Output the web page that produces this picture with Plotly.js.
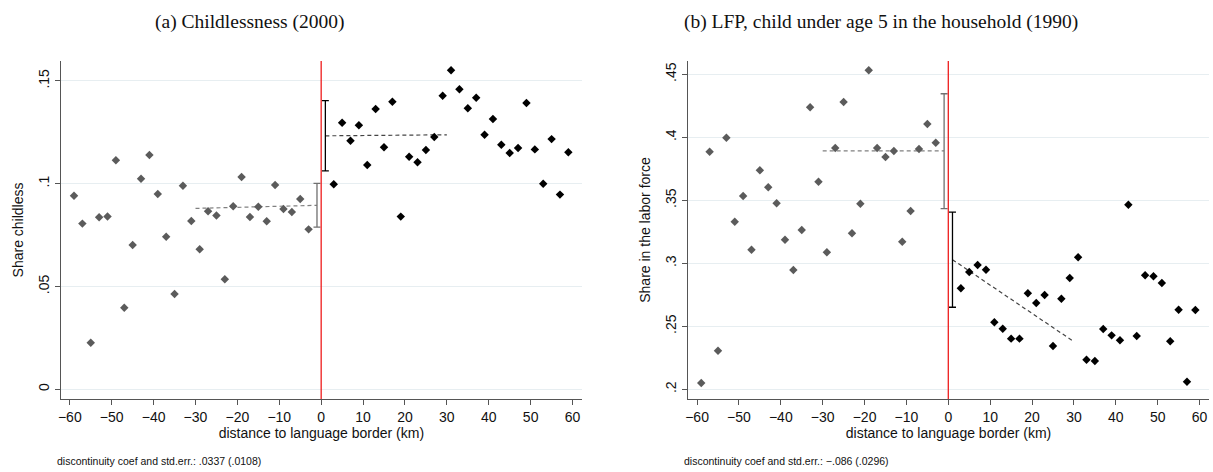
<!DOCTYPE html>
<html>
<head>
<meta charset="utf-8">
<script src="https://cdn.plot.ly/plotly-3.0.1.min.js"></script>
<style>
  html, body { margin: 0; padding: 0; background: #fff; }
  #chart { width: 1213px; height: 472px; }
</style>
</head>
<body>
<div id="chart"></div>
<script>
// Bin midpoints (km from the language border)
const binsWest = [-59,-57,-55,-53,-51,-49,-47,-45,-43,-41,-39,-37,-35,-33,-31,-29,-27,-25,-23,-21,-19,-17,-15,-13,-11,-9,-7,-5,-3];
const binsEast = [3,5,7,9,11,13,15,17,19,21,23,25,27,29,31,33,35,37,39,41,43,45,47,49,51,53,55,57,59];

// (a) Share childless, 2000
const childlessWest = [0.0942,0.0806,0.0227,0.0837,0.0841,0.1114,0.0397,0.0702,0.1024,0.1140,0.0950,0.0742,0.0464,0.0990,0.0819,0.0681,0.0866,0.0845,0.0535,0.0890,0.1033,0.0838,0.0888,0.0817,0.0994,0.0877,0.0862,0.0926,0.0778];
const childlessEast = [0.0997,0.1297,0.1209,0.1284,0.1091,0.1363,0.1177,0.1399,0.0840,0.1131,0.1104,0.1164,0.1227,0.1428,0.1552,0.1459,0.1367,0.1418,0.1238,0.1315,0.1190,0.1149,0.1174,0.1393,0.1167,0.1000,0.1217,0.0947,0.1153];

// (b) Share in the labor force, child under 5, 1990
const lfpWest = [0.2050,0.3886,0.2306,0.3997,0.3330,0.3534,0.3108,0.3738,0.3603,0.3476,0.3187,0.2947,0.3264,0.4238,0.3648,0.3087,0.3915,0.4280,0.3238,0.3473,0.4532,0.3915,0.3844,0.3891,0.3171,0.3415,0.3907,0.4106,0.3957];
const lfpEast = [0.2802,0.2931,0.2987,0.2949,0.2532,0.2481,0.2402,0.2402,0.2762,0.2685,0.2748,0.2344,0.2719,0.2883,0.3048,0.2235,0.2225,0.2479,0.2428,0.2389,0.3465,0.2423,0.2905,0.2897,0.2844,0.2381,0.2632,0.2060,0.2629];

// Linear fits within 30 km on each side, and the intercept CIs at the border
const fitXWest = [-30, -1];
const fitXEast = [1, 30];
const childFitWest = [0.0880, 0.0895];
const childFitEast = [0.1233, 0.1238];
const childCIWest = [0.0789, 0.1002];
const childCIEast = [0.1062, 0.1404];
const lfpFitWest = [0.3893, 0.3893];
const lfpFitEast = [0.3029, 0.2378];
const lfpCIWest = [0.3434, 0.4346];
const lfpCIEast = [0.2651, 0.3407];

// Axis ticks
const xTicks = [-60,-50,-40,-30,-20,-10,0,10,20,30,40,50,60];
const childTickVals = [0, 0.05, 0.1, 0.15];
const childTickText = ['0', '.05', '.1', '.15'];
const lfpTickVals = [0.2, 0.25, 0.3, 0.35, 0.4, 0.45];
const lfpTickText = ['.2', '.25', '.3', '.35', '.4', '.45'];

const titles = ['(a) Childlessness (2000)', '(b) LFP, child under age 5 in the household (1990)'];
const yTitles = ['Share childless', 'Share in the labor force'];
const xTitle = 'distance to language border (km)';
const notes = ['discontinuity coef and std.err.: .0337 (.0108)', 'discontinuity coef and std.err.: \u2212.086 (.0296)'];

const GREY = '#5b5b5b';
const BLACK = '#000000';
const SANS = 'Liberation Sans, Arial, sans-serif';

function scatter(x, y, color, xa, ya) {
  return { type: 'scatter', mode: 'markers', x: x, y: y, xaxis: xa, yaxis: ya,
    marker: { symbol: 'diamond', size: 6.5, color: color }, hoverinfo: 'x+y', showlegend: false };
}
function fit(x, y, color, xa, ya) {
  return { type: 'scatter', mode: 'lines', x: x, y: y, xaxis: xa, yaxis: ya,
    line: { color: color, width: 1.2, dash: '4px,3px' }, hoverinfo: 'skip', showlegend: false };
}
function ci(xpos, bounds, mid, color, xa, ya) {
  return { type: 'scatter', mode: 'markers', x: [xpos], y: [mid], xaxis: xa, yaxis: ya,
    marker: { size: 1, color: 'rgba(0,0,0,0)' },
    error_y: { type: 'data', symmetric: false, array: [bounds[1] - mid], arrayminus: [mid - bounds[0]],
      color: color, thickness: 1.3, width: 3.5 },
    hoverinfo: 'skip', showlegend: false };
}

const data = [
  fit(fitXWest, childFitWest, '#808080', 'x', 'y'),
  fit(fitXEast, childFitEast, '#444444', 'x', 'y'),
  ci(-1, childCIWest, childFitWest[1], '#707070', 'x', 'y'),
  ci(1, childCIEast, childFitEast[0], BLACK, 'x', 'y'),
  scatter(binsWest, childlessWest, GREY, 'x', 'y'),
  scatter(binsEast, childlessEast, BLACK, 'x', 'y'),

  fit(fitXWest, lfpFitWest, '#808080', 'x2', 'y2'),
  fit(fitXEast, lfpFitEast, '#444444', 'x2', 'y2'),
  ci(-1, lfpCIWest, (lfpCIWest[0] + lfpCIWest[1]) / 2, '#707070', 'x2', 'y2'),
  ci(1, lfpCIEast, (lfpCIEast[0] + lfpCIEast[1]) / 2, BLACK, 'x2', 'y2'),
  scatter(binsWest, lfpWest, GREY, 'x2', 'y2'),
  scatter(binsEast, lfpEast, BLACK, 'x2', 'y2')
];

function xAxis(domain, anchor) {
  return {
    domain: domain, anchor: anchor, range: [-62.1, 62.2],
    tickvals: xTicks, ticks: 'outside', ticklen: 5, tickwidth: 1, tickcolor: '#555',
    showline: true, linecolor: '#555', linewidth: 1.2, showgrid: false, zeroline: false,
    tickfont: { family: SANS, size: 14, color: '#111' },
    title: { text: xTitle, font: { family: SANS, size: 14, color: '#111' }, standoff: 1 }
  };
}
function yAxis(domain, anchor, range, vals, text, title) {
  return {
    domain: domain, anchor: anchor, range: range,
    tickvals: vals, ticktext: text, tickangle: -90,
    ticks: 'outside', ticklen: 5, tickwidth: 1, tickcolor: '#555',
    showline: true, linecolor: '#555', linewidth: 1.2,
    showgrid: true, gridcolor: '#e7eef1', gridwidth: 1, zeroline: false,
    tickfont: { family: SANS, size: 14, color: '#111' },
    title: { text: title, font: { family: SANS, size: 14, color: '#111' }, standoff: 9 }
  };
}

const yDom = [0.1547, 0.8708];
const TITLE_FONT = { family: 'Liberation Serif, serif', size: 19.5, color: '#111' };
const layout = {
  width: 1213, height: 472,
  margin: { l: 0, r: 0, t: 0, b: 0 },
  paper_bgcolor: '#ffffff', plot_bgcolor: '#ffffff',
  showlegend: false,
  xaxis: xAxis([0.0503, 0.4796], 'y'),
  yaxis: yAxis(yDom, 'x', [-0.0047, 0.1597], childTickVals, childTickText, yTitles[0]),
  xaxis2: xAxis([0.5674, 0.9965], 'y2'),
  yaxis2: yAxis(yDom, 'x2', [0.1923, 0.4606], lfpTickVals, lfpTickText, yTitles[1]),
  shapes: [
    { type: 'line', xref: 'x', yref: 'y domain', x0: 0, x1: 0, y0: 0, y1: 1, line: { color: '#ee1c1c', width: 1.3 } },
    { type: 'line', xref: 'x2', yref: 'y2 domain', x0: 0, x1: 0, y0: 0, y1: 1, line: { color: '#ee1c1c', width: 1.3 } }
  ],
  annotations: [
    { text: titles[0], xref: 'paper', yref: 'paper', x: 0.2057, y: 0.953, showarrow: false,
      xanchor: 'center', yanchor: 'middle', font: TITLE_FONT },
    { text: titles[1], xref: 'paper', yref: 'paper', x: 0.7262, y: 0.953, showarrow: false,
      xanchor: 'center', yanchor: 'middle', font: TITLE_FONT },
    { text: notes[0], xref: 'paper', yref: 'paper', x: 55 / 1213, y: 1 - 461 / 472, showarrow: false,
      xanchor: 'left', yanchor: 'middle', font: { family: SANS, size: 10.5, color: '#111' } },
    { text: notes[1], xref: 'paper', yref: 'paper', x: 682 / 1213, y: 1 - 461 / 472, showarrow: false,
      xanchor: 'left', yanchor: 'middle', font: { family: SANS, size: 10.5, color: '#111' } }
  ]
};

Plotly.newPlot('chart', data, layout, { staticPlot: true, displayModeBar: false });
</script>
</body>
</html>
